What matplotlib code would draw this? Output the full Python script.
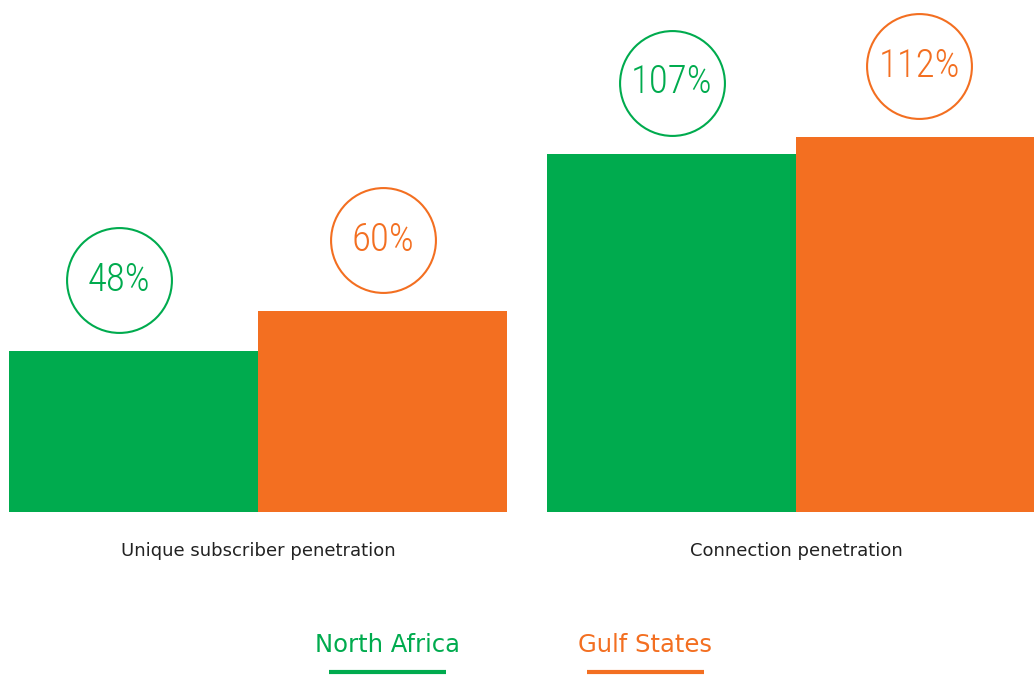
import matplotlib
matplotlib.use("Agg")
import matplotlib.pyplot as plt
from matplotlib.lines import Line2D
import numpy as np

# data
categories = ["Unique subscriber penetration", "Connection penetration"]
series_names = ["North Africa", "Gulf States"]
north_africa = [48, 107]
gulf_states = [60, 112]
colors = ["#00AB4E", "#F36F21"]

W, H = 1034, 675
fig = plt.figure(figsize=(W / 100, H / 100), dpi=100)
# baseline at 512 px from top, ~3.35 px per percent
ax = fig.add_axes([0, (H - 512) / H, 1, 512 / H])
ax.set_ylim(0, 512 / 3.35)
ax.set_xlim(-258 / 249, (W - 258) / 249)
ax.axis("off")

group_x = np.array([0, 538 / 249])
# small nudges of the circles relative to the bar centre
circle_shift = [[-0.058, 0.0], [0.0, -0.006]]
num_font = ["Roboto Condensed", "Liberation Sans Narrow", "DejaVu Sans"]
for i, (vals, col) in enumerate(zip([north_africa, gulf_states], colors)):
    xs = group_x + (i - 0.5)
    ax.bar(xs, vals, width=1.0, color=col, linewidth=0)
    for j, (x, v) in enumerate(zip(xs, vals)):
        cx = x + circle_shift[i][j]
        cy = v + 71 / 3.35
        ax.scatter([cx], [cy], s=5700, facecolor="white", edgecolor=col,
                   linewidth=1.5, zorder=3)
        ax.text(cx, cy, f"{v}%", color=col, fontsize=28, family=num_font,
                fontstretch="condensed", fontweight="light",
                ha="center", va="center", zorder=4)

for gx, cat in zip(group_x, categories):
    ax.text(gx, -39 / 3.35, cat, ha="center", va="center", fontsize=13,
            color="#222222", family="DejaVu Sans")

# legend: text with a bar under it
legend_x = [387.5, 645]
for lx, name, col in zip(legend_x, series_names, colors):
    fig.text(lx / W, 1 - 645 / H, name, ha="center", va="center",
             fontsize=17.5, color=col, family="DejaVu Sans")
    fig.add_artist(Line2D([(lx - 58.5) / W, (lx + 58.5) / W],
                          [1 - 672 / H, 1 - 672 / H], color=col,
                          linewidth=3, solid_capstyle="butt"))

fig.savefig("out.png", dpi=100)
